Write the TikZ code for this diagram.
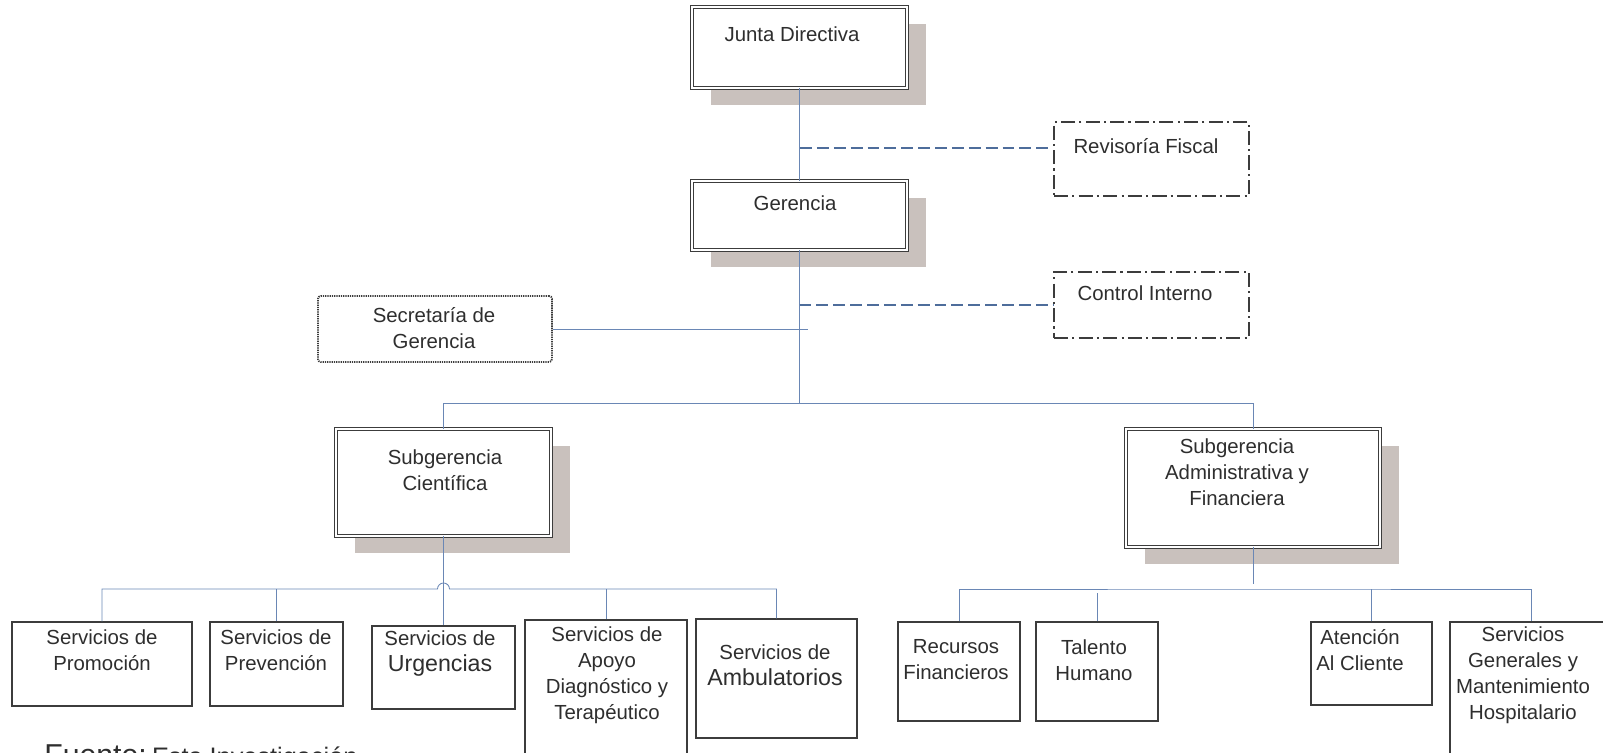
\documentclass[tikz,border=0pt]{standalone}
\usepackage{fontspec}
\setmainfont{Liberation Sans}
\usetikzlibrary{shadows, positioning}

\definecolor{linkblue}{HTML}{6A87B5}
\definecolor{dashblue}{HTML}{4E6D9B}
\definecolor{boxgray}{HTML}{3C3C3C}
\definecolor{shadowgray}{HTML}{C9C1BD}
\definecolor{textgray}{HTML}{2E2E2E}

\newcommand{\pxu}{0.025cm}

\tikzset{
    boxsize/.style 2 args={minimum width=#1*\pxu, minimum height=#2*\pxu},
    mainbox/.style={draw=boxgray, line width=0.5pt, double=white, double distance=1.9pt,
        fill=white, inner sep=0pt,
        general shadow={fill=shadowgray, shadow xshift=4.75mm, shadow yshift=-4.25mm}},
    unitbox/.style={draw=boxgray, line width=0.8pt, fill=white, inner sep=0pt},
    staffbox/.style={draw=boxgray, line width=1.5pt, dash pattern=on 10pt off 3pt on 1.5pt off 3pt, inner sep=0pt},
    dotbox/.style={draw=boxgray, line width=1.3pt, dash pattern=on 0.9pt off 0.7pt, rounded corners=2pt, inner sep=0pt},
    link/.style={draw=linkblue, line width=0.6pt},
    dashlink/.style={draw=dashblue, line width=1.4pt, dash pattern=on 8.5pt off 3.5pt},
    txt/.style={text=textgray, font=\fontsize{14.5}{18.5}\selectfont, align=center, inner sep=0pt}
}

\begin{document}
\begin{tikzpicture}[x=0.025cm, y=-0.025cm]
    \path[use as bounding box, clip] (0,0) rectangle (1603,753);

    % direccion
    \node[mainbox, boxsize={215}{81}] (junta) at (799.5, 47.5) {};
    \node[mainbox, boxsize={215}{69}] (gerencia) at (799.5, 215.5) {};
    \node[staffbox, boxsize={195}{74}] (revisoria) at (1151.5, 159) {};
    \node[staffbox, boxsize={195}{66}] (control) at (1151.5, 305) {};
    \node[dotbox, boxsize={234}{66}] (secretaria) at (435, 329) {};

    \node[txt] (juntaT) at (792, 34) {Junta Directiva};
    \node[txt] (gerenciaT) at (795, 203) {Gerencia};
    \node[txt] (revisoriaT) at (1146, 146) {Revisoría Fiscal};
    \node[txt] (controlT) at (1145, 293) {Control Interno};
    \node[txt] (secretariaT) at (434, 328) {Secretaría de\\Gerencia};

    % subgerencias
    \node[mainbox, boxsize={215}{107}] (subcien) at (443.5, 482.5) {};
    \node[mainbox, boxsize={254}{118}] (subadmin) at (1253, 488) {};
    \node[txt] (subcienT) at (445, 470) {Subgerencia\\Científica};
    \node[txt] (subadminT) at (1237, 472) {Subgerencia\\Administrativa y\\Financiera};

    % servicios
    \node[unitbox, boxsize={180}{84}] (promocion) at (102, 664) {};
    \node[unitbox, boxsize={133}{84}] (prevencion) at (276.5, 664) {};
    \node[unitbox, boxsize={143}{83}] (urgencias) at (443.5, 667.5) {};
    \node[unitbox, boxsize={162}{160}] (apoyo) at (606, 700) {};
    \node[unitbox, boxsize={161}{119}] (ambulatorios) at (776.5, 678.5) {};
    \node[unitbox, boxsize={122}{99}] (recursos) at (959, 671.5) {};
    \node[unitbox, boxsize={122}{99}] (talento) at (1097, 671.5) {};
    \node[unitbox, boxsize={121}{83}] (atencion) at (1371.5, 663.5) {};
    \node[unitbox, boxsize={162}{168}] (servgen) at (1531, 706) {};

    \node[txt] (promocionT) at (102, 650) {Servicios de\\Promoción};
    \node[txt] (prevencionT) at (276, 650) {Servicios de\\Prevención};
    \node[txt] (urgenciasT) at (440, 654) {Servicios de\\\fontsize{16.5}{21}\selectfont Urgencias};
    \node[txt] (apoyoT) at (607, 675) {Servicios de\\Apoyo\\Diagnóstico y\\Terapéutico};
    \node[txt] (ambulatoriosT) at (775, 665) {Servicios de\\\fontsize{16.5}{21}\selectfont Ambulatorios};
    \node[txt] (recursosT) at (956, 660) {Recursos\\Financieros};
    \node[txt] (talentoT) at (1094, 660) {Talento\\Humano};
    \node[txt] (atencionT) at (1360, 650) {Atención\\Al Cliente};
    \node[txt] (servgenT) at (1523, 675) {Servicios\\Generales y\\Mantenimiento\\Hospitalario};

    \node[text=textgray, anchor=base west, inner sep=0pt] (fuente) at (44, 765)
        {{\fontsize{21.5}{22}\selectfont Fuente:} {\fontsize{18}{18}\selectfont Esta Investigación}};

    % puntos de union
    \coordinate (revjoin) at (800, 148);
    \coordinate (secend) at (808, 329);
    \coordinate (topbar) at (800, 403);
    \coordinate (hopL) at (437.5, 589);
    \coordinate (adminend) at (1253, 584);
    \coordinate (rightbar) at (1253, 589);
    \coordinate (talentoend) at (1097, 593);

    % conectores
    \draw[link] (junta.south) -- (gerencia.north);
    \draw[link] (gerencia.south) -- (gerencia.south |- topbar);
    \draw[link] (subcien.north) |- (subadmin.north |- topbar) -- (subadmin.north);
    \draw[link] (secretaria.east) -- (secend);
    \draw[dashlink] (revjoin) -- (revjoin -| revisoria.west);
    \draw[dashlink] (gerencia.south |- control.west) -- (control.west);

    \draw[link] (subcien.south) -- (urgencias.north);
    \draw[link] (promocion.north) |- (hopL) arc[start angle=180, end angle=0, radius=0.15cm] -| (ambulatorios.north);
    \draw[link] (prevencion.north) -- (prevencion.north |- hopL);
    \draw[link] (apoyo.north) -- (apoyo.north |- hopL);

    \draw[link] (subadmin.south) -- (adminend);
    \draw[link] (recursos.north) |- (rightbar) -| (servgen.north);
    \draw[link] (atencion.north) -- (atencion.north |- rightbar);
    \draw[link] (talento.north) -- (talentoend);
\end{tikzpicture}
\end{document}
